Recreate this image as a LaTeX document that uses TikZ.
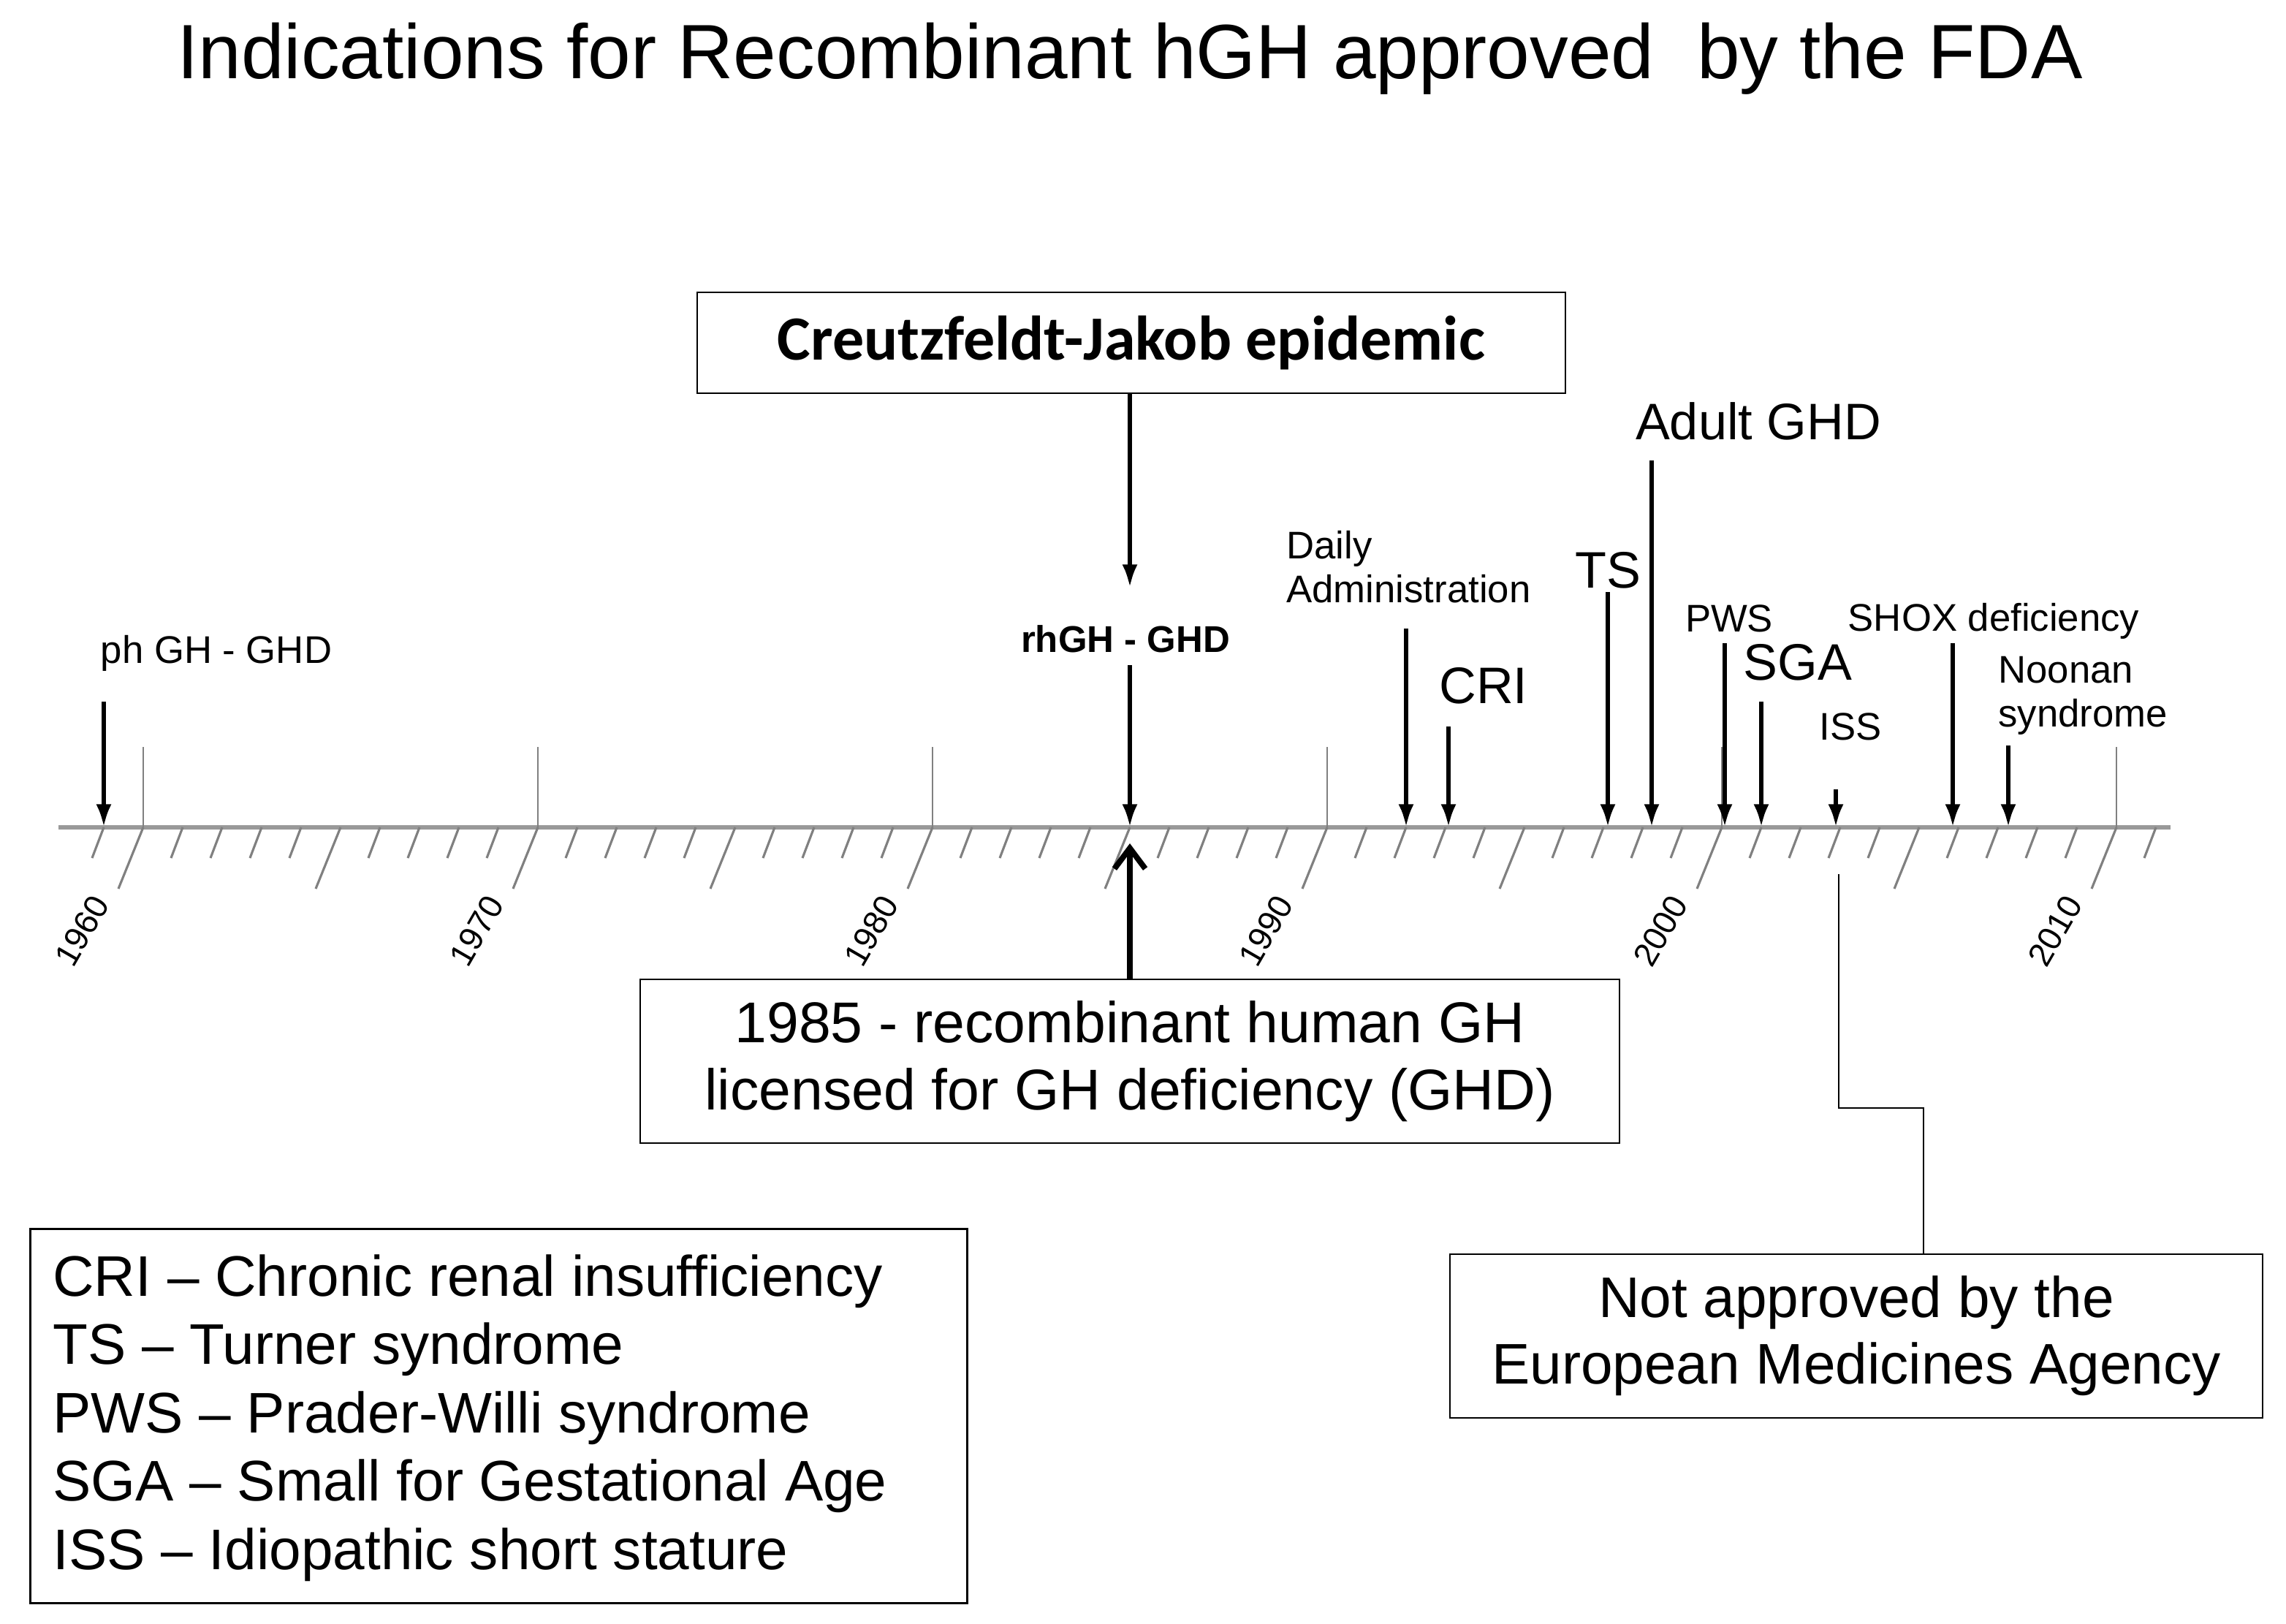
\documentclass[tikz,border=0pt]{standalone}
\usepackage{fontspec}
\setmainfont{Liberation Sans}
\newfontfamily\carlitofont{Carlito}
\usetikzlibrary{arrows.meta}
\begin{document}
\begin{tikzpicture}[x=0.02cm,y=-0.02cm,
  evarrow/.style={line width=1.7pt,-{Latex[length=9pt,width=6pt]}},
  tickline/.style={gray,line width=0.9pt},
  boxed/.style={draw,line width=0.8pt,inner sep=0pt},
  small/.style={font=\fontsize{15}{17}\selectfont},
  big/.style={font=\fontsize{20}{22}\selectfont},
  yearlbl/.style={font=\fontsize{13}{15}\selectfont,rotate=60}]
\useasboundingbox (0,0) rectangle (1564,1111);
\node (title) at (773,40) {\fontsize{30}{33}\selectfont Indications for Recombinant hGH approved\ \ by the FDA};
% axis
\draw[gray!80,line width=1.8pt] (40,566) -- (1485,566);
\foreach \y in {1959,...,2011}{
  \pgfmathsetmacro\xx{98+27*(\y-1960)}
  \pgfmathtruncatemacro\m{mod(\y,5)}
  \ifnum\m=0
    \draw[tickline] (\xx,566) -- ++(-17,42);
  \else
    \draw[tickline] (\xx,566) -- ++(-8,21);
  \fi
}
\foreach \y in {1960,1970,...,2010}{
  \pgfmathsetmacro\xx{98+27*(\y-1960)}
  \draw[tickline,line width=0.7pt] (\xx,511) -- (\xx,566);
  \node[yearlbl] (y\y) at (\xx-42,637) {\y};
}
% CJ box
\node[boxed,minimum width=594*0.02cm,minimum height=69*0.02cm,font=\carlitofont\bfseries\fontsize{24.5}{26}\selectfont] (cj) at (774,234.5) {Creutzfeldt-Jakob epidemic};
\coordinate (cjend) at (773,402);
\draw[evarrow] (cj.south -| cjend) -- (cjend);
% rhGH
\node[font=\bfseries\fontsize{14.5}{16}\selectfont] (rh) at (770,437) {rhGH - GHD};
\coordinate (rhb) at (773,566);
\draw[evarrow] (773,455) -- (rhb);
% 1985 box
\node[boxed,minimum width=670*0.02cm,minimum height=112*0.02cm,align=center,font=\fontsize{22.4}{26}\selectfont] (lic) at (773,726) {1985 - recombinant human GH\\licensed for GH deficiency (GHD)};
\coordinate (upend) at (773,577);
\draw[line width=2.2pt,-{Straight Barb[length=8pt,width=12pt]}] (lic.north) -- (upend);
% events
\node[small] (ph) at (148,447) {ph GH - GHD};
\draw[evarrow] (71,480) -- (71,566);
\node[small,align=left,anchor=west] (daily) at (874,388) {Daily\\Administration};
\draw[evarrow] (962,430) -- (962,566);
\node[big] (cri) at (1015,469) {CRI};
\draw[evarrow] (991,497) -- (991,566);
\node[big] (ts) at (1100,390) {TS};
\draw[evarrow] (1100,405) -- (1100,566);
\node[big] (adult) at (1203,288) {Adult GHD};
\draw[evarrow] (1130,315) -- (1130,566);
\node[small] (pws) at (1183,423) {PWS};
\draw[evarrow] (1180,440) -- (1180,566);
\node[big] (sga) at (1230,453) {SGA};
\draw[evarrow] (1205,480) -- (1205,566);
\node[small] (iss) at (1266,497) {ISS};
\draw[evarrow] (1256,540) -- (1256,566);
\node[small] (shox) at (1364,425) {SHOX deficiency};
\draw[evarrow] (1336,440) -- (1336,566);
\node[small,align=left,anchor=west] (noonan) at (1361,476) {Noonan\\syndrome};
\draw[evarrow] (1374,510) -- (1374,566);
% not approved
\node[boxed,minimum width=556*0.02cm,minimum height=112*0.02cm,align=center,font=\fontsize{22.3}{26}\selectfont] (ema) at (1270,914) {Not approved by the\\European Medicines Agency};
\coordinate (emastart) at (1258,598);
\draw[line width=0.8pt] (emastart) -- (1258,758) -- (1316,758) -- (1316,858);
% legend
\node[boxed,minimum width=641*0.02cm,minimum height=256*0.02cm,anchor=north west] (leg) at (20,840) {};
\node[anchor=north west,align=left,font=\fontsize{22.3}{26.6}\selectfont] (legt) at (30,852) {CRI -- Chronic renal insufficiency\\TS -- Turner syndrome\\PWS -- Prader-Willi syndrome\\SGA -- Small for Gestational Age\\ISS -- Idiopathic short stature};
\end{tikzpicture}
\end{document}
